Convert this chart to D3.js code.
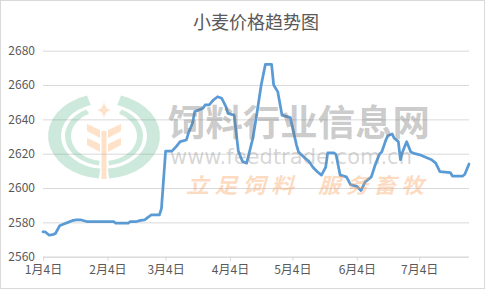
<!DOCTYPE html>
<html>
<head>
<meta charset="utf-8">
<script src="https://cdn.jsdelivr.net/npm/d3@7"></script>
<style>
  html, body { margin: 0; padding: 0; background: #fff; }
  svg { display: block; }
</style>
</head>
<body>
<svg id="chart" width="485" height="289"></svg>
<script>
// ---- data ----
const titleText = "小麦价格趋势图";
const dates = [
  "2019-01-04","2019-01-05","2019-01-07","2019-01-09","2019-01-10","2019-01-12","2019-01-14","2019-01-16",
  "2019-01-18","2019-01-20","2019-01-22","2019-01-25","2019-02-07","2019-02-08","2019-02-14","2019-02-15",
  "2019-02-18","2019-02-20","2019-02-22","2019-02-23","2019-02-25","2019-03-01","2019-03-02","2019-03-04",
  "2019-03-07","2019-03-09","2019-03-11","2019-03-14","2019-03-15","2019-03-17","2019-03-18","2019-03-22",
  "2019-03-23","2019-03-25","2019-03-27","2019-03-29","2019-03-31","2019-04-02","2019-04-03","2019-04-06",
  "2019-04-07","2019-04-08","2019-04-10","2019-04-12","2019-04-15","2019-04-17","2019-04-19","2019-04-21",
  "2019-04-24","2019-04-25","2019-04-27","2019-04-29","2019-05-03","2019-05-06","2019-05-07","2019-05-10",
  "2019-05-12","2019-05-14","2019-05-16","2019-05-18","2019-05-20","2019-05-21","2019-05-24","2019-05-25",
  "2019-05-27","2019-05-30","2019-06-01","2019-06-04","2019-06-06","2019-06-08","2019-06-10","2019-06-11",
  "2019-06-13","2019-06-15","2019-06-16","2019-06-18","2019-06-19","2019-06-21","2019-06-22","2019-06-24",
  "2019-06-25","2019-06-26","2019-06-28","2019-06-30","2019-07-02","2019-07-04","2019-07-08","2019-07-10",
  "2019-07-12","2019-07-14","2019-07-19","2019-07-20","2019-07-25","2019-07-26","2019-07-28"
];
const prices = [
  2574.5,2574.5,2572.5,2573,2573.5,2578,2579,2580,
  2581,2581.5,2581.5,2580.5,2580.5,2579.5,2579.5,2580.5,
  2580.5,2581.2,2581.5,2582.5,2584.3,2584.3,2588,2621.5,
  2621.5,2624,2627,2628,2632,2638,2644.5,2646.5,
  2648.4,2648.4,2651.3,2653.2,2652.3,2647.4,2643.5,2642.5,
  2632,2621.5,2615.5,2614.5,2629,2644,2660,2672,
  2672,2660,2656,2642.5,2641,2625,2621,2617.5,
  2615.5,2612,2609.5,2607.5,2612,2620.5,2620.5,2619.5,
  2607.5,2606.5,2602,2601,2598.5,2603.5,2605.5,2606.5,
  2614,2620,2621,2628,2630.5,2631.5,2629,2627,
  2616.5,2621,2627,2621,2620,2619.5,2617.5,2616.5,
  2614.5,2609.5,2609,2607,2607,2608,2614
];
const yTicks = [2560, 2580, 2600, 2620, 2640, 2660, 2680];
const xTickDates = ["2019-01-04","2019-02-04","2019-03-04","2019-04-04","2019-05-04","2019-06-04","2019-07-04"];
const xTickLabels = ["1月4日","2月4日","3月4日","4月4日","5月4日","6月4日","7月4日"];
const domainDates = ["2019-01-04","2019-07-28"];
const watermarkTitle = "饲料行业信息网";
const watermarkUrl = "www.feedtrade.com.cn";
const watermarkSlogan1 = "立 足 饲 料";
const watermarkSlogan2 = "服 务 畜 牧";

// ---- drawing ----
(function () {
const parse = s => { const [Y,M,D] = s.split("-").map(Number); return new Date(Y, M-1, D); };
const data = dates.map((d,i) => ({date: parse(d), v: prices[i]}));

const svg = d3.select("#chart");
const W = 485, H = 289;
const pLeft = 43, pRight = 469, pTop = 50.7, pBottom = 256.7;
const font = "'Noto Sans CJK SC', 'Noto Sans', sans-serif";

svg.append("rect").attr("x",0.5).attr("y",0.5).attr("width",W-1).attr("height",H-1)
  .attr("fill","#fff").attr("stroke","#d9d9d9");

const x = d3.scaleTime().domain(domainDates.map(parse)).range([pLeft, pRight]);
const y = d3.scaleLinear().domain([2560, 2680]).range([pBottom, pTop]);

// title
svg.append("text").attr("x", (pLeft+pRight)/2).attr("y", 29)
  .attr("text-anchor","middle").attr("font-family", font).attr("font-size", 18)
  .attr("fill","#595959").text(titleText);

// y axis with gridlines
const yAxis = svg.append("g").attr("transform", `translate(${pLeft},0)`)
  .call(d3.axisLeft(y).tickValues(yTicks).tickSize(-(pRight-pLeft)).tickPadding(8).tickFormat(d3.format("d")));
yAxis.select(".domain").remove();
yAxis.selectAll(".tick line").attr("stroke","#d9d9d9").attr("stroke-width",1);
yAxis.selectAll(".tick text").attr("font-family", font).attr("font-size", 12).attr("fill","#595959");

// x axis
const xAxis = svg.append("g").attr("transform", `translate(0,${pBottom})`)
  .call(d3.axisBottom(x).tickValues(xTickDates.map(parse)).tickSize(4).tickPadding(5)
    .tickFormat((d,i) => xTickLabels[i]));
xAxis.select(".domain").attr("stroke","#d9d9d9").attr("d", `M${pLeft},0.5H${pRight}`);
xAxis.selectAll(".tick line").attr("stroke","#d9d9d9");
xAxis.selectAll(".tick text").attr("font-family", font).attr("font-size", 12).attr("fill","#595959");

// line
const line = d3.line().x(d => x(d.date)).y(d => y(d.v));
svg.append("path").datum(data).attr("d", line)
  .attr("fill","none").attr("stroke","#5b9bd5").attr("stroke-width",2.75)
  .attr("stroke-linejoin","round").attr("stroke-linecap","round");

// ---- watermark overlay ----
const wm = svg.append("g").attr("pointer-events","none");
const cx = 104, cy = 136;
const ring = wm.append("g").attr("transform", `translate(${cx},${cy}) scale(1,0.76)`);
const green = "rgba(70,175,125,0.27)";
const arcs = [
  {ri: 43, ro: 56, a0: 0.31, a1: Math.PI - 0.09},
  {ri: 33, ro: 39, a0: 0.47, a1: Math.PI - 0.13}
];
arcs.forEach(a => {
  ring.append("path").attr("d", d3.arc()({innerRadius:a.ri, outerRadius:a.ro, startAngle:a.a0, endAngle:a.a1})).attr("fill", green);
  ring.append("path").attr("d", d3.arc()({innerRadius:a.ri, outerRadius:a.ro, startAngle:-a.a1, endAngle:-a.a0})).attr("fill", green);
});
const peach = "rgba(250,170,100,0.35)";
wm.append("rect").attr("x",101.5).attr("y",131).attr("width",5).attr("height",48).attr("fill",peach);
[[0,0],[0,14]].forEach(([dx,dy]) => {
  wm.append("path").attr("d", `M100,${138+dy} L87,${131+dy} L87,${124+dy} L100,${130+dy} Z`).attr("fill",peach);
  wm.append("path").attr("d", `M108,${138+dy} L121,${131+dy} L121,${124+dy} L108,${130+dy} Z`).attr("fill",peach);
});
wm.append("path").attr("d","M104,102 Q105,109 111,110 Q105,111 104,118 Q103,111 97,110 Q103,109 104,102 Z").attr("fill",peach);

wm.append("text").attr("x",168).attr("y",136).attr("font-family", font).attr("font-weight","bold")
  .attr("font-size",36).attr("textLength",262).attr("lengthAdjust","spacingAndGlyphs")
  .attr("fill","rgba(120,120,120,0.40)").text(watermarkTitle);
wm.append("text").attr("x",170).attr("y",164).attr("font-family", "'DejaVu Sans', sans-serif")
  .attr("font-size",22).attr("textLength",242).attr("lengthAdjust","spacingAndGlyphs")
  .attr("fill","rgba(130,130,130,0.32)").text(watermarkUrl);
wm.append("text").attr("x",186).attr("y",193).attr("font-family", font).attr("font-weight","bold")
  .attr("font-style","italic").attr("font-size",21).attr("textLength",108).attr("lengthAdjust","spacingAndGlyphs")
  .attr("fill","rgba(250,160,90,0.38)").text(watermarkSlogan1);
wm.append("text").attr("x",318).attr("y",193).attr("font-family", font).attr("font-weight","bold")
  .attr("font-style","italic").attr("font-size",21).attr("textLength",106).attr("lengthAdjust","spacingAndGlyphs")
  .attr("fill","rgba(250,160,90,0.38)").text(watermarkSlogan2);
})();
</script>
</body>
</html>
